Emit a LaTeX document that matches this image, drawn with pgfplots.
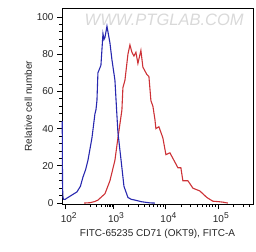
\documentclass[border=0pt]{standalone}
\usepackage{fontspec}
\setmainfont{Liberation Sans}
\usepackage{pgfplots}
\pgfplotsset{compat=1.18}
\usetikzlibrary{calc}
\definecolor{fblue}{RGB}{40,40,175}
\definecolor{fred}{RGB}{205,50,55}
\newcommand{\dec}[1]{10\raisebox{4.5pt}{\fontsize{8.5}{9}\selectfont #1}}
\begin{document}
\begin{tikzpicture}
\begin{axis}[
  set layers,
  scale only axis, width=191pt, height=196pt,
  xmin=2.029, xmax=5.67, ymin=-0.5, ymax=104.8,
  axis line style={black, line width=0.8pt},
  tick style={black, line width=0.7pt},
  tick align=outside,
  xtick pos=bottom, ytick pos=left,
  major tick length=5pt, minor tick length=3pt,
  xtick={2.10,3,4,5},
  xticklabels={{\dec{2}},{\dec{3}},{\dec{4}},{\dec{5}}},
  minor xtick={2.56,2.69,2.78,2.85,2.89,2.93,2.96,2.99,
    3.301,3.477,3.602,3.699,3.778,3.845,3.903,3.954,
    4.301,4.477,4.602,4.699,4.778,4.845,4.903,4.954,
    5.301,5.477,5.602},
  ytick={0,20,40,60,80,100},
  minor y tick num=4,
  /pgf/number format/assume math mode=true,
  tick label style={font=\fontsize{10}{12}\selectfont, text=black!85},
  x tick label style={xshift=3pt},
  label style={font=\fontsize{10}{12}\selectfont, text=black!85},
  xlabel={FITC-65235 CD71 (OKT9), FITC-A},
  ylabel={Relative cell number},
  xlabel style={yshift=1pt},
  ylabel style={yshift=-2pt},
  clip=false,
]
\coordinate (sw) at (rel axis cs:0,0);
\coordinate (ne) at (rel axis cs:1,1);
\node[text=black!15, font=\fontsize{16.5}{18}\selectfont\itshape, anchor=center] at (rel axis cs:0.535,0.94) {WWW.PTGLAB.COM};
% blue (isotype/unstained)
\addplot[fblue, line width=1.1pt, on layer=axis foreground] coordinates {
(2.034,44) (2.036,25) (2.040,8) (2.048,3) (2.06,2) (2.09,2) (2.12,2.6) (2.2,4) (2.314,6)
(2.38,9) (2.429,14) (2.48,18) (2.524,23) (2.6,35) (2.657,48) (2.676,50) (2.695,55)
(2.714,70) (2.771,74) (2.810,91) (2.83,88) (2.848,89) (2.886,95) (2.943,86) (2.981,77)
(3.038,66) (3.07,50) (3.095,38) (3.171,19) (3.21,9) (3.286,3) (3.35,2) (3.419,1.6) (3.55,0.7) (3.705,0.1) (3.8,0)
};
% red (CD71)
\addplot[fred, line width=1.1pt] coordinates {
(2.45,0) (2.562,0.2) (2.65,0.8) (2.714,1.6) (2.848,5) (2.943,12) (3.038,23) (3.095,35)
(3.171,50) (3.19,62) (3.229,66) (3.286,80) (3.324,85) (3.362,81) (3.4,79) (3.438,81)
(3.476,75) (3.533,82) (3.571,73) (3.648,69) (3.686,68) (3.724,55) (3.762,52) (3.8,45)
(3.819,40) (3.876,41) (3.952,35) (4.01,26) (4.086,27) (4.143,24) (4.238,19) (4.295,19)
(4.333,12) (4.429,12) (4.524,8) (4.657,6.5) (4.79,3) (4.905,1) (5.0,0.8) (5.095,0.5) (5.19,0)
};
\end{axis}
\pgfresetboundingbox
\path[use as bounding box] ($(sw)+(-62pt,-47pt)$) rectangle ($(ne)+(3pt,8pt)$);
\end{tikzpicture}
\end{document}
